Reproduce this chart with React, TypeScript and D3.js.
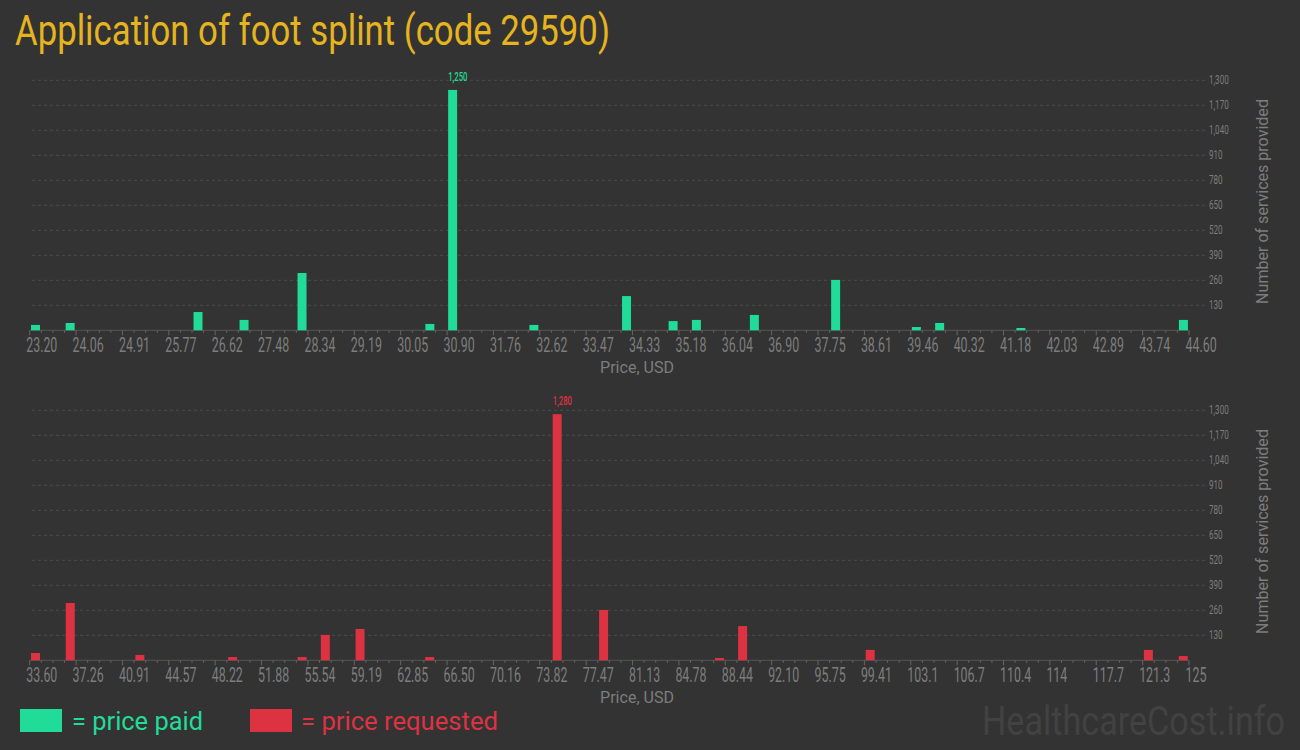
import React, { useLayoutEffect, useRef, useState } from "react";
import * as d3 from "d3";

const paidPrices = [23.2, 23.84, 26.2, 27.05, 28.12, 30.48, 30.9, 32.4, 34.11, 34.97, 35.4, 36.47, 37.97, 39.46, 39.89, 41.39, 44.39];
const paidCounts = [28, 38, 95, 54, 298, 33, 1250, 28, 178, 48, 54, 80, 262, 17, 38, 12, 54];
const paidTicks = ["23.20", "24.06", "24.91", "25.77", "26.62", "27.48", "28.34", "29.19", "30.05", "30.90", "31.76", "32.62", "33.47", "34.33", "35.18", "36.04", "36.90", "37.75", "38.61", "39.46", "40.32", "41.18", "42.03", "42.89", "43.74", "44.60"];

const requestedPrices = [33.6, 36.34, 41.83, 49.14, 54.62, 56.45, 59.19, 64.68, 74.73, 78.39, 87.53, 89.35, 99.41, 121.34, 124.09];
const requestedCounts = [38, 298, 28, 17, 17, 132, 163, 17, 1280, 262, 12, 178, 54, 54, 22];
const requestedTicks = ["33.60", "37.26", "40.91", "44.57", "48.22", "51.88", "55.54", "59.19", "62.85", "66.50", "70.16", "73.82", "77.47", "81.13", "84.78", "88.44", "92.10", "95.75", "99.41", "103.1", "106.7", "110.4", "114", "117.7", "121.3", "125"];

const yTicks = [130, 260, 390, 520, 650, 780, 910, 1040, 1170, 1300];

const BG = "#333333";
const GREEN = "#20dc98";
const RED = "#dc3242";
const GOLD = "#e6b41e";
const TEXT = "#7d7d7d";
const FONT = "Roboto, 'Noto Sans', sans-serif";
const SX = 0.62;

type FitProps = {
  x: number;
  y: number;
  width: number;
  size: number;
  fill: string;
  anchor?: "start" | "middle";
  rotate?: number;
  children: string;
};

function FitText({ x, y, width, size, fill, anchor = "start", rotate = 0, children }: FitProps) {
  const ref = useRef<SVGTextElement>(null);
  const [sx, setSx] = useState(0.75);
  useLayoutEffect(() => {
    if (ref.current) {
      const w = ref.current.getComputedTextLength();
      if (w > 0) setSx(width / w);
    }
  }, [width, children]);
  return (
    <text
      ref={ref}
      transform={`translate(${x},${y}) rotate(${rotate}) scale(${sx},1)`}
      textAnchor={anchor}
      fontFamily={FONT}
      fontSize={size}
      fill={fill}
    >
      {children}
    </text>
  );
}

type PanelProps = {
  top: number;
  prices: number[];
  counts: number[];
  ticks: string[];
  color: string;
};

function Panel({ top, prices, counts, ticks, color }: PanelProps) {
  const x0 = 29.7;
  const x1 = 1189;
  const minP = +ticks[0];
  const maxP = +ticks[ticks.length - 1];
  const nBins = (ticks.length - 1) * 4;
  const binW = (maxP - minP) / nBins;
  const x = d3.scaleLinear().domain([minP, maxP]).range([x0, x1]);
  const tickScale = d3.scaleLinear().domain([0, ticks.length - 1]).range([x0, x1]);
  const binScale = d3.scaleLinear().domain([0, nBins]).range([x0, x1]);
  const y = d3.scaleLinear().domain([0, 1300]).range([top + 270.3, top + 20.3]);
  const base = y(0);
  const fmt = d3.format(",");
  const maxIdx = counts.indexOf(d3.max(counts) as number);
  const pxBin = x(minP + binW) - x(minP);
  const inset = 1.3;

  return (
    <g>
      {yTicks.map((t) => (
        <g key={t}>
          <line x1={32} x2={1205} y1={y(t)} y2={y(t)} stroke="#4b4b4b" strokeDasharray="3,3" strokeWidth={1} />
          <text
            transform={`translate(1209,${y(t) + 4}) scale(${SX},1)`}
            fontFamily={FONT}
            fontSize={13}
            fill={TEXT}
          >
            {fmt(t)}
          </text>
        </g>
      ))}
      <line x1={x0} x2={x1} y1={base} y2={base} stroke="#555" strokeWidth={1} />
      {d3.range(nBins + 1).map((i) => (
        <line
          key={"m" + i}
          x1={binScale(i)}
          x2={binScale(i)}
          y1={base}
          y2={base + (i % 4 === 0 ? 5 : 2.5)}
          stroke="#666"
          strokeWidth={1}
        />
      ))}
      {ticks.map((t, i) => (
        <text
          key={t}
          transform={`translate(${tickScale(i) - 3.5},${top + 291.5}) scale(${SX},1)`}
          fontFamily={FONT}
          fontSize={20}
          fill={TEXT}
        >
          {t}
        </text>
      ))}
      {prices.map((p, i) => {
        const bx = x(p);
        return (
          <rect
            key={i}
            x={bx + inset}
            y={y(counts[i])}
            width={pxBin - 2 * inset}
            height={base - y(counts[i])}
            fill={color}
          />
        );
      })}
      <text
        transform={`translate(${x(prices[maxIdx]) + inset},${y(counts[maxIdx]) - 9}) scale(${SX},1)`}
        fontFamily={FONT}
        fontSize={12.5}
        fontWeight={500}
        fill={color}
      >
        {fmt(counts[maxIdx])}
      </text>
      <FitText x={637} y={top + 313.3} width={74} size={16.5} fill={TEXT} anchor="middle">
        Price, USD
      </FitText>
      <FitText x={1267.5} y={top + 141.5} width={205} size={16.5} fill={TEXT} anchor="middle" rotate={-90}>
        Number of services provided
      </FitText>
    </g>
  );
}

export default function App() {
  return (
    <svg
      width={1300}
      height={750}
      style={{ position: "absolute", left: 0, top: 0, display: "block" }}
    >
      <rect x={0} y={0} width={1300} height={750} fill={BG} />
      <FitText x={15} y={45} width={595} size={42} fill={GOLD}>
        Application of foot splint (code 29590)
      </FitText>
      <Panel top={60} prices={paidPrices} counts={paidCounts} ticks={paidTicks} color={GREEN} />
      <Panel top={390} prices={requestedPrices} counts={requestedCounts} ticks={requestedTicks} color={RED} />
      <rect x={20} y={709} width={42} height={23} fill={GREEN} />
      <FitText x={72} y={729.5} width={131} size={26} fill={GREEN}>
        = price paid
      </FitText>
      <rect x={250} y={709} width={42} height={23} fill={RED} />
      <FitText x={301} y={729.5} width={197} size={26} fill={RED}>
        = price requested
      </FitText>
      <FitText x={982} y={735} width={303} size={41} fill="#424242">
        HealthcareCost.info
      </FitText>
    </svg>
  );
}
